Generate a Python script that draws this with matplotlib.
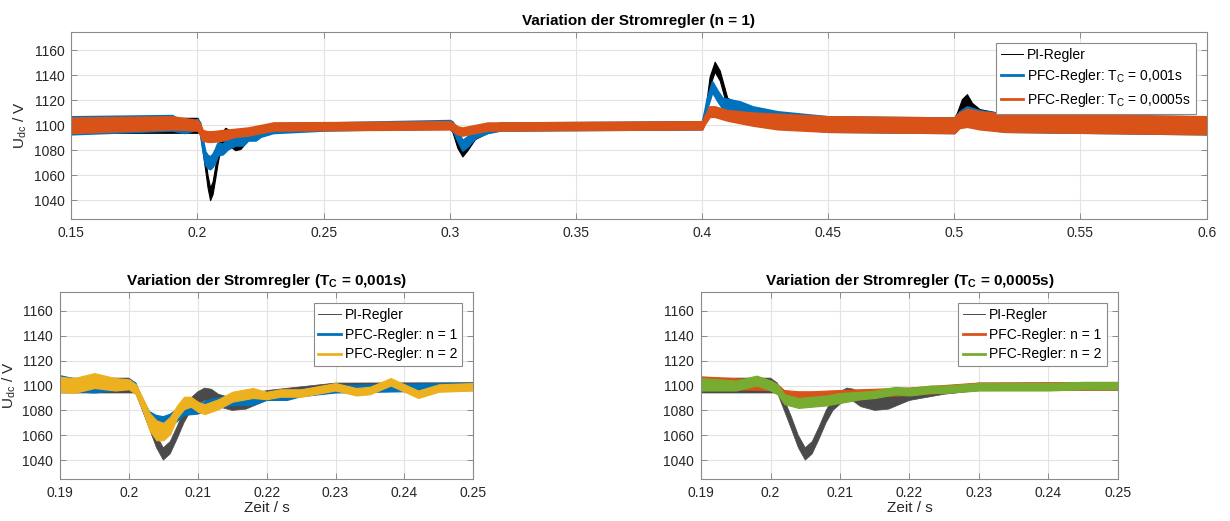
import matplotlib
matplotlib.use("Agg")
from matplotlib import pyplot as plt
from matplotlib.ticker import FuncFormatter

plt.rcParams['font.family'] = ['Liberation Sans', 'DejaVu Sans']
plt.rcParams['mathtext.fontset'] = 'custom'
plt.rcParams['mathtext.rm'] = 'Liberation Sans'
plt.rcParams['mathtext.it'] = 'Liberation Sans'
plt.rcParams['mathtext.bf'] = 'Liberation Sans:bold'

# PI-Regler (mean value and ripple half width)
pi_t = [0.15, 0.2, 0.201, 0.203, 0.204, 0.205, 0.206, 0.207, 0.208, 0.209, 0.21, 0.211,
        0.212, 0.213, 0.215, 0.217, 0.22, 0.225, 0.23, 0.3, 0.301, 0.303, 0.305, 0.307,
        0.31, 0.315, 0.32, 0.4, 0.401, 0.403, 0.405, 0.407, 0.41, 0.42, 0.43, 0.45, 0.5,
        0.501, 0.503, 0.505, 0.507, 0.51, 0.52, 0.6]
pi_u = [1100, 1100, 1098, 1070, 1055, 1045, 1050, 1062, 1075, 1085, 1090, 1093,
        1092, 1088, 1085, 1086, 1092, 1096, 1099, 1100, 1098, 1085, 1078, 1083,
        1092, 1097, 1099, 1100, 1105, 1135, 1147, 1140, 1118, 1108, 1104, 1101, 1100,
        1104, 1115, 1120, 1112, 1106, 1102, 1100]
pi_r = [6, 6, 4, 5, 5, 5, 5, 5, 5, 5, 5, 5,
        5, 5, 5, 5, 4, 3, 3, 3, 3, 3, 3, 3,
        3, 3, 3, 3, 3, 4, 4, 4, 4, 5, 6, 6, 6,
        6, 6, 5, 6, 7, 7, 7]

# PFC-Regler n = 1, T_C = 0,001s
bl_t = [0.15, 0.19, 0.195, 0.2, 0.201, 0.202, 0.203, 0.204, 0.205, 0.206, 0.207, 0.208,
        0.21, 0.212, 0.215, 0.218, 0.22, 0.223, 0.225, 0.23, 0.24, 0.25, 0.3, 0.301,
        0.303, 0.305, 0.307, 0.31, 0.315, 0.32, 0.4, 0.401, 0.402, 0.404, 0.406, 0.408,
        0.41, 0.415, 0.42, 0.43, 0.45, 0.5, 0.502, 0.505, 0.51, 0.52, 0.6]
bl_u = [1100, 1102, 1098, 1101, 1098, 1085, 1074, 1071, 1070, 1072, 1076, 1081,
        1081, 1085, 1088, 1088, 1091, 1091, 1094, 1097, 1098, 1099, 1101, 1100,
        1092, 1084, 1087, 1093, 1097, 1099, 1100, 1108, 1118, 1131, 1124, 1118,
        1117, 1114, 1110, 1105, 1101, 1100, 1105, 1108, 1105, 1102, 1100]
bl_r = [7, 6, 4, 4, 4, 4, 5, 5, 5, 5, 5, 5,
        4, 4, 4, 4, 3, 3, 3, 3, 3, 3, 3, 3,
        4, 4, 4, 3, 3, 3, 3, 4, 4, 4, 4, 4,
        4, 5, 5, 6, 6, 6, 6, 7, 7, 7, 7]

# PFC-Regler n = 1, T_C = 0,0005s
or_t = [0.15, 0.19, 0.2, 0.201, 0.202, 0.204, 0.206, 0.21, 0.215, 0.22, 0.225, 0.23,
        0.3, 0.301, 0.303, 0.305, 0.31, 0.315, 0.4, 0.401, 0.403, 0.405, 0.41, 0.42,
        0.43, 0.45, 0.5, 0.502, 0.505, 0.51, 0.52, 0.6]
or_u = [1100, 1102, 1100, 1097, 1092, 1091, 1091, 1092, 1094, 1095, 1097, 1099,
        1100, 1099, 1096, 1095, 1097, 1099, 1100, 1104, 1111, 1111, 1108, 1105,
        1103, 1101, 1100, 1104, 1106, 1104, 1102, 1100]
or_r = [6, 5, 4, 4, 4, 4, 4, 4, 3, 3, 3, 3,
        3, 3, 3, 3, 3, 3, 3, 3, 4, 4, 4, 5,
        6, 6, 6, 6, 7, 7, 7, 7]

# PFC-Regler n = 2, T_C = 0,001s
ye_t = [0.19, 0.192, 0.195, 0.198, 0.2, 0.201, 0.202, 0.203, 0.204, 0.205, 0.206, 0.207,
        0.208, 0.209, 0.21, 0.211, 0.213, 0.215, 0.218, 0.22, 0.222, 0.225, 0.228, 0.23,
        0.233, 0.235, 0.238, 0.24, 0.242, 0.245, 0.25]
ye_u = [1101, 1100, 1104, 1101, 1101, 1097, 1085, 1071, 1064, 1063, 1068, 1079,
        1086, 1087, 1083, 1081, 1085, 1091, 1094, 1092, 1094, 1094, 1097, 1099,
        1095, 1096, 1103, 1098, 1093, 1098, 1099]
ye_r = [6, 6, 6, 5, 4, 4, 5, 7, 8, 7, 7, 5,
        5, 4, 4, 4, 4, 4, 4, 3, 3, 3, 3, 3,
        3, 3, 3, 3, 3, 3, 3]

# PFC-Regler n = 2, T_C = 0,0005s
gr_t = [0.19, 0.195, 0.198, 0.2, 0.201, 0.202, 0.204, 0.206, 0.208, 0.21, 0.213, 0.215,
        0.218, 0.22, 0.223, 0.225, 0.23, 0.235, 0.24, 0.245, 0.25]
gr_u = [1101, 1100, 1104, 1100, 1097, 1089, 1086, 1087, 1088, 1090, 1092, 1093,
        1096, 1095, 1097, 1097, 1099, 1099, 1099, 1100, 1100]
gr_r = [5, 4, 4, 4, 4, 4, 4, 4, 4, 4, 3, 3,
        3, 3, 3, 3, 3, 3, 3, 3, 3]

c_blue = '#0072BD'
c_orange = '#D95319'
c_yellow = '#EDB120'
c_green = '#77AC30'


def band(ax, t, u, r, color, lw):
    lo = [a - b for a, b in zip(u, r)]
    hi = [a + b for a, b in zip(u, r)]
    ax.fill_between(t, lo, hi, facecolor=color, edgecolor=color, linewidth=lw)


def style(ax, xticks):
    ax.set_ylim(1025, 1175)
    ax.set_yticks([1040, 1060, 1080, 1100, 1120, 1140, 1160])
    ax.set_xlim(xticks[0], xticks[-1])
    ax.set_xticks(xticks)
    ax.xaxis.set_major_formatter(FuncFormatter(lambda v, p: '%g' % round(v, 3)))
    ax.grid(True, color='#e3e3e3', linewidth=0.8)
    ax.set_axisbelow(True)
    ax.tick_params(direction='in', top=True, right=True, length=4, width=0.7,
                   color='#8a8a8a', labelcolor='#262626', labelsize=10, pad=5)
    for s in ax.spines.values():
        s.set_color('#8a8a8a')
        s.set_linewidth(0.8)


def legend(ax, handles, labels):
    leg = ax.legend(handles, labels, loc='upper right', fancybox=False, framealpha=1,
                    edgecolor='#8a8a8a', fontsize=10, borderaxespad=0.8,
                    handlelength=1.6, handletextpad=0.3, labelspacing=0.4,
                    borderpad=0.35)
    leg.get_frame().set_linewidth(0.8)


fig = plt.figure(figsize=(12.3, 5.21), dpi=100)
ax1 = fig.add_axes([0.058, 0.580, 0.923, 0.359])
ax2 = fig.add_axes([0.0488, 0.081, 0.336, 0.358])
ax3 = fig.add_axes([0.570, 0.081, 0.3388, 0.358])

# top: n = 1
band(ax1, pi_t, pi_u, pi_r, 'black', 0.8)
band(ax1, bl_t, bl_u, bl_r, c_blue, 1.5)
band(ax1, or_t, or_u, or_r, c_orange, 1.5)
style(ax1, [0.15, 0.2, 0.25, 0.3, 0.35, 0.4, 0.45, 0.5, 0.55, 0.6])
ax1.set_title('Variation der Stromregler (n = 1)', fontsize=11, fontweight='bold', pad=5)
ax1.set_ylabel('U$_{dc}$ / V', fontsize=11, color='#262626', labelpad=3)
h1 = [plt.Line2D([], [], color='black', lw=0.7),
      plt.Line2D([], [], color=c_blue, lw=2),
      plt.Line2D([], [], color=c_orange, lw=2)]
legend(ax1, h1, ['PI-Regler', 'PFC-Regler: T$_C$ = 0,001s', 'PFC-Regler: T$_C$ = 0,0005s'])

zoom_ticks = [0.19, 0.2, 0.21, 0.22, 0.23, 0.24, 0.25]

# bottom left: T_C = 0,001s
band(ax2, pi_t, pi_u, pi_r, '#4a4a4a', 0.5)
band(ax2, bl_t, bl_u, bl_r, c_blue, 0.8)
band(ax2, ye_t, ye_u, ye_r, c_yellow, 0.8)
style(ax2, zoom_ticks)
ax2.set_title(r'Variation der Stromregler ($\mathbf{T_C}$ = 0,001s)', fontsize=11,
              fontweight='bold', pad=5)
ax2.set_ylabel('U$_{dc}$ / V', fontsize=11, color='#262626', labelpad=3)
ax2.set_xlabel('Zeit / s', fontsize=11, color='#262626', labelpad=1)
h2 = [plt.Line2D([], [], color='#4a4a4a', lw=0.7),
      plt.Line2D([], [], color=c_blue, lw=2),
      plt.Line2D([], [], color=c_yellow, lw=2)]
legend(ax2, h2, ['PI-Regler', 'PFC-Regler: n = 1', 'PFC-Regler: n = 2'])

# bottom right: T_C = 0,0005s
band(ax3, pi_t, pi_u, pi_r, '#4a4a4a', 0.5)
band(ax3, or_t, or_u, or_r, c_orange, 0.8)
band(ax3, gr_t, gr_u, gr_r, c_green, 0.8)
style(ax3, zoom_ticks)
ax3.set_title(r'Variation der Stromregler ($\mathbf{T_C}$ = 0,0005s)', fontsize=11,
              fontweight='bold', pad=5)
ax3.set_xlabel('Zeit / s', fontsize=11, color='#262626', labelpad=1)
h3 = [plt.Line2D([], [], color='#4a4a4a', lw=0.7),
      plt.Line2D([], [], color=c_orange, lw=2),
      plt.Line2D([], [], color=c_green, lw=2)]
legend(ax3, h3, ['PI-Regler', 'PFC-Regler: n = 1', 'PFC-Regler: n = 2'])

fig.savefig('out.png', dpi=100)
